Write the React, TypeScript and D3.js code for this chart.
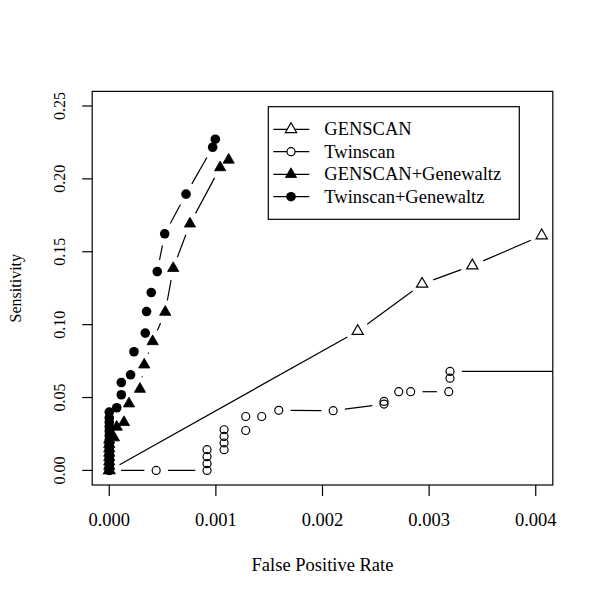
import React from "react";
import * as d3 from "d3";

// ---- data ----
const genscanFPR = [0, 0.00233, 0.002934, 0.003405, 0.004056];
const genscanSens = [0, 0.0955, 0.1279, 0.1405, 0.1611];

const twinscanFPR = [0, 0.00044, 0.000917, 0.000917, 0.000917, 0.000917, 0.001077, 0.001077, 0.001077, 0.001077, 0.00128, 0.00128, 0.00143, 0.00159, 0.0021, 0.002577, 0.002577, 0.002715, 0.002827, 0.003184, 0.003196, 0.003196, 0.0055];
const twinscanSens = [0, 0, 0, 0.0046, 0.0094, 0.0142, 0.0142, 0.0188, 0.0233, 0.0279, 0.0274, 0.037, 0.037, 0.0412, 0.041, 0.0455, 0.0473, 0.054, 0.054, 0.054, 0.0633, 0.0679, 0.0679];

const gGwFPR = [0, 0, 0, 0, 0, 0, 0, 0, 0.000044, 0.00007, 0.000138, 0.000185, 0.000288, 0.000328, 0.000407, 0.000525, 0.0006, 0.000757, 0.00104, 0.00112];
const gGwSens = [0, 0.003, 0.006, 0.009, 0.012, 0.015, 0.018, 0.021, 0.0225, 0.0298, 0.033, 0.0458, 0.0558, 0.0725, 0.0885, 0.1086, 0.1387, 0.1692, 0.2078, 0.213];

const tGwFPR = [0, 0, 0, 0, 0, 0, 0, 0, 0, 0, 0, 0, 0, 0, 0.00007, 0.000113, 0.000113, 0.0002, 0.000232, 0.000338, 0.00035, 0.000394, 0.00045, 0.00052, 0.00072, 0.00097, 0.000995];
const tGwSens = [0, 0.003, 0.006, 0.009, 0.012, 0.015, 0.018, 0.021, 0.024, 0.027, 0.03, 0.033, 0.036, 0.04, 0.043, 0.0519, 0.0603, 0.0656, 0.0814, 0.0942, 0.109, 0.122, 0.1364, 0.1623, 0.1895, 0.2217, 0.2272];

const xTicks = [0, 0.001, 0.002, 0.003, 0.004];
const yTicks = [0, 0.05, 0.1, 0.15, 0.2, 0.25];

const legendLabels = ["GENSCAN", "Twinscan", "GENSCAN+Genewaltz", "Twinscan+Genewaltz"];
const legendMarkers = ["triOpen", "circOpen", "triFilled", "circFilled"];

const xLabel = "False Positive Rate";
const yLabel = "Sensitivity";

// ---- layout ----
const W = 600, H = 600;
const L = 92.2, R = 552.8, T = 91.4, B = 485;
const FONT = "'Liberation Serif', 'Times New Roman', Times, serif";
const GAP = 11.8;
const TRI_R = 6.5;

const x = d3.scaleLinear().domain([-0.00016, 0.00416]).range([L, R]);
const y = d3.scaleLinear().domain([-0.01, 0.26]).range([B, T]);

function Marker({ kind, cx, cy, legend }: { kind: string; cx: number; cy: number; legend?: boolean }) {
  const open = kind.endsWith("Open");
  const fill = open ? (legend ? "white" : "none") : "black";
  if (kind.startsWith("tri")) {
    const r = TRI_R;
    const pts = [
      [cx, cy - r],
      [cx + r * 0.866, cy + r / 2],
      [cx - r * 0.866, cy + r / 2],
    ];
    return (
      <path
        d={d3.line()(pts as [number, number][]) + "Z"}
        fill={fill}
        stroke="black"
        strokeWidth={open ? 1.2 : 0.8}
        strokeLinejoin="miter"
      />
    );
  }
  return open ? (
    <circle cx={cx} cy={cy} r={4} fill={fill} stroke="black" strokeWidth={1.2} />
  ) : (
    <circle cx={cx} cy={cy} r={4.8} fill="black" />
  );
}

function Series({ xs, ys, kind }: { xs: number[]; ys: number[]; kind: string }) {
  const pts = xs.map((v, i) => [x(v), y(ys[i])]);
  const segs: string[] = [];
  for (let i = 0; i < pts.length - 1; i++) {
    const [x0, y0] = pts[i];
    const [x1, y1] = pts[i + 1];
    const dx = x1 - x0, dy = y1 - y0;
    const d = Math.hypot(dx, dy);
    if (d > 2 * GAP) {
      const f = GAP / d;
      segs.push(
        d3.line()([
          [x0 + dx * f, y0 + dy * f],
          [x1 - dx * f, y1 - dy * f],
        ]) as string
      );
    }
  }
  return (
    <g>
      {segs.map((s, i) => (
        <path key={i} d={s} stroke="black" strokeWidth={1.2} fill="none" />
      ))}
      {pts.map(([px, py], i) => (
        <Marker key={"m" + i} kind={kind} cx={px} cy={py} />
      ))}
    </g>
  );
}

export default function App() {
  const fmtX = d3.format(".3f");
  const fmtY = d3.format(".2f");
  const legX0 = 268.3, legY0 = 106.7, legX1 = 519.3, legY1 = 219.3;
  const rowY = [129.3, 151.7, 174.3, 196.7];
  return (
    <svg
      width={W}
      height={H}
      style={{ position: "fixed", left: 0, top: 0, background: "white" }}
      fontFamily={FONT}
    >
      <rect x={0} y={0} width={W} height={H} fill="white" />
      <defs>
        <clipPath id="plotclip">
          <rect x={L} y={T} width={R - L} height={B - T} />
        </clipPath>
      </defs>
      <g clipPath="url(#plotclip)">
        <Series xs={genscanFPR} ys={genscanSens} kind="triOpen" />
        <Series xs={twinscanFPR} ys={twinscanSens} kind="circOpen" />
        <Series xs={gGwFPR} ys={gGwSens} kind="triFilled" />
        <Series xs={tGwFPR} ys={tGwSens} kind="circFilled" />
      </g>
      <rect x={L} y={T} width={R - L} height={B - T} fill="none" stroke="black" strokeWidth={1.2} />
      {/* x axis */}
      <g>
        {xTicks.map((t) => (
          <g key={t}>
            <line x1={x(t)} x2={x(t)} y1={B} y2={B + 11} stroke="black" strokeWidth={1.2} />
            <text x={x(t)} y={526} textAnchor="middle" fontSize={18.5}>
              {fmtX(t)}
            </text>
          </g>
        ))}
      </g>
      {/* y axis */}
      <g>
        {yTicks.map((t) => (
          <g key={t}>
            <line x1={L} x2={L - 10} y1={y(t)} y2={y(t)} stroke="black" strokeWidth={1.2} />
            <text
              transform={`translate(65,${y(t)}) rotate(-90)`}
              textAnchor="middle"
              fontSize={16}
            >
              {fmtY(t)}
            </text>
          </g>
        ))}
      </g>
      <text x={(L + R) / 2} y={570.5} textAnchor="middle" fontSize={18.5}>
        {xLabel}
      </text>
      <text transform={`translate(20.5,${(T + B) / 2}) rotate(-90)`} textAnchor="middle" fontSize={16}>
        {yLabel}
      </text>
      {/* legend */}
      <rect x={legX0} y={legY0} width={legX1 - legX0} height={legY1 - legY0} fill="white" stroke="black" strokeWidth={1.2} />
      {legendLabels.map((lab, i) => (
        <g key={lab}>
          <line x1={273.3} x2={309.3} y1={rowY[i]} y2={rowY[i]} stroke="black" strokeWidth={1.2} />
          <Marker kind={legendMarkers[i]} cx={291} cy={rowY[i]} legend />
          <text x={324.3} y={rowY[i] + 6} fontSize={18.5}>
            {lab}
          </text>
        </g>
      ))}
    </svg>
  );
}
